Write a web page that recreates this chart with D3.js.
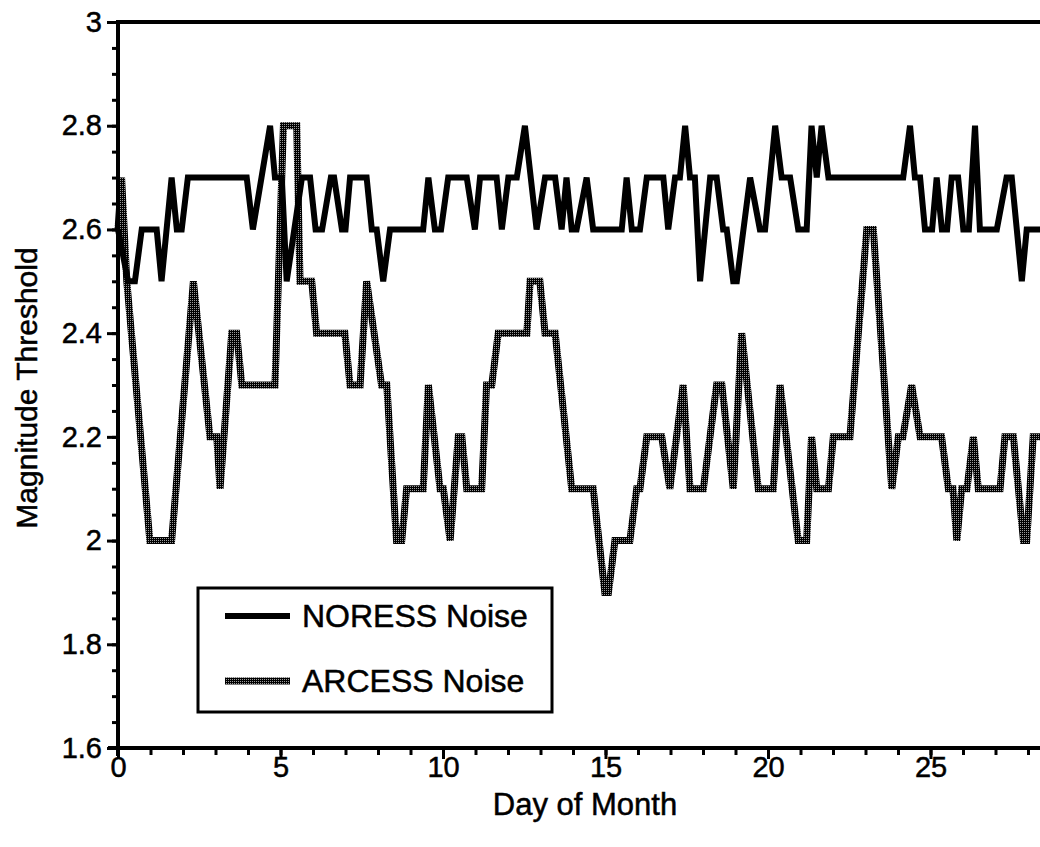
<!DOCTYPE html>
<html>
<head>
<meta charset="utf-8">
<script src="https://cdn.jsdelivr.net/npm/d3@7/dist/d3.min.js"></script>
<style>
  body { margin: 0; background: #fff; }
  svg { display: block; }
  text { font-family: "Liberation Sans", Arial, Helvetica, sans-serif; fill: #000; stroke: #000; stroke-width: 0.5; }
</style>
</head>
<body>
<div id="chart"></div>
<script>

const WIDTH = 1040;
const HEIGHT = 847;

// Plot box (the right side runs off the page like the original scan).
const PLOT = {'left': 118, 'top': 22, 'bottom': 748, 'dayWidth': 32.5};

// Day of month for each vertex, NORESS Noise.
var noressDays = [0, 0.31, 0.52, 0.73, 1.19, 1.34, 1.65, 1.81, 1.96, 2.15, 3.96, 4.15, 4.68, 4.83, 5.04, 5.19,
    5.66, 5.91, 6.08, 6.28, 6.55, 6.65, 6.89, 7.00, 7.14, 7.65, 7.81, 7.96, 8.16, 8.37, 9.39, 9.55, 9.75, 9.94,
    10.16, 10.73, 10.98, 11.14, 11.65, 11.81, 12.01, 12.27, 12.52, 12.88, 13.14, 13.45, 13.65, 13.80, 13.96,
    14.11, 14.42, 14.62, 15.50, 15.65, 15.81, 16.06, 16.27, 16.78, 16.93, 17.14, 17.29, 17.45, 17.60, 17.75,
    17.91, 18.22, 18.42, 18.62, 18.73, 18.93, 19.04, 19.45, 19.75, 19.91, 20.22, 20.42, 20.68, 20.93, 21.19,
    21.34, 21.50, 21.65, 21.86, 24.16, 24.37, 24.52, 24.68, 24.83, 25.05, 25.19, 25.35, 25.51, 25.65, 25.85,
    26.01, 26.18, 26.37, 26.52, 27.04, 27.34, 27.50, 27.81, 27.96, 28.6];
var noressValues = [2.6, 2.5, 2.5, 2.6, 2.6, 2.5, 2.7, 2.6, 2.6, 2.7, 2.7, 2.6, 2.8, 2.7, 2.7, 2.5,
    2.7, 2.7, 2.6, 2.6, 2.7, 2.7, 2.6, 2.6, 2.7, 2.7, 2.6, 2.6, 2.5, 2.6, 2.6, 2.7, 2.6, 2.6,
    2.7, 2.7, 2.6, 2.7, 2.7, 2.6, 2.7, 2.7, 2.8, 2.6, 2.7, 2.7, 2.6, 2.7, 2.6,
    2.6, 2.7, 2.6, 2.6, 2.7, 2.6, 2.6, 2.7, 2.7, 2.6, 2.7, 2.7, 2.8, 2.7, 2.7,
    2.5, 2.7, 2.7, 2.6, 2.6, 2.5, 2.5, 2.7, 2.6, 2.6, 2.8, 2.7, 2.7, 2.6, 2.6,
    2.8, 2.7, 2.8, 2.7, 2.7, 2.8, 2.7, 2.7, 2.6, 2.6, 2.7, 2.6, 2.6, 2.7, 2.7,
    2.6, 2.6, 2.8, 2.6, 2.6, 2.7, 2.7, 2.5, 2.6, 2.6];

// Day of month for each vertex, ARCESS Noise.
var arcessDays = [0, 0.11, 0.27, 0.98, 1.65, 2.32, 2.83, 3.04, 3.14, 3.50, 3.65, 3.81, 4.83, 5.09, 5.50,
    5.60, 5.96, 6.11, 6.98, 7.14, 7.45, 7.65, 8.11, 8.27, 8.57, 8.73, 8.88, 9.39, 9.55, 9.91, 10.01, 10.22,
    10.47, 10.58, 10.73, 11.19, 11.34, 11.50, 11.70, 12.58, 12.68, 12.98, 13.14, 13.45, 13.96, 14.62, 14.98,
    15.09, 15.29, 15.75, 15.96, 16.06, 16.27, 16.73, 16.98, 17.39, 17.60, 18.01, 18.42, 18.58, 18.93, 19.19,
    19.70, 20.16, 20.37, 20.93, 21.19, 21.34, 21.50, 21.86, 22.01, 22.52, 23.04, 23.24, 23.81, 24.01, 24.15,
    24.42, 24.68, 25.34, 25.55, 25.69, 25.81, 25.96, 26.12, 26.32, 26.47, 27.14, 27.29, 27.55, 27.86, 27.96,
    28.16, 28.6];
var arcessValues = [2.6, 2.7, 2.5, 2.0, 2.0, 2.5, 2.2, 2.2, 2.1, 2.4, 2.4, 2.3, 2.3, 2.8, 2.8,
    2.5, 2.5, 2.4, 2.4, 2.3, 2.3, 2.5, 2.3, 2.3, 2.0, 2.0, 2.1, 2.1, 2.3, 2.1, 2.1, 2.0,
    2.2, 2.2, 2.1, 2.1, 2.3, 2.3, 2.4, 2.4, 2.5, 2.5, 2.4, 2.4, 2.1, 2.1, 1.9,
    1.9, 2.0, 2.0, 2.1, 2.1, 2.2, 2.2, 2.1, 2.3, 2.1, 2.1, 2.3, 2.3, 2.1, 2.4,
    2.1, 2.1, 2.3, 2.0, 2.0, 2.2, 2.1, 2.1, 2.2, 2.2, 2.6, 2.6, 2.1, 2.2, 2.2,
    2.3, 2.2, 2.2, 2.1, 2.1, 2.0, 2.1, 2.1, 2.2, 2.1, 2.1, 2.2, 2.2, 2.0, 2.0,
    2.2, 2.2];

var xTickLabels = [0, 5, 10, 15, 20, 25];
var yTickLabels = [1.6, 1.8, 2, 2.2, 2.4, 2.6, 2.8, 3];
var seriesNames = ['NORESS Noise', 'ARCESS Noise'];


window.onload = function() {

    var svg = d3.select("#chart").append("svg")
                .attr("width", WIDTH)
                .attr("height", HEIGHT);

    // dithered look of the ARCESS trace
    var defs = svg.append("defs");
    var pat = defs.append("pattern")
                  .attr("id", "dither")
                  .attr("patternUnits", "userSpaceOnUse")
                  .attr("width", 2)
                  .attr("height", 2);
    pat.append("rect").attr("width", 2).attr("height", 2).attr("fill", "#000");
    pat.append("rect").attr("width", 1).attr("height", 1).attr("fill", "#999");

    var x = d3.scaleLinear()
              .domain([0, 31])
              .range([PLOT.left, PLOT.left + 31 * PLOT.dayWidth]);

    var y = d3.scaleLinear()
              .domain([1.6, 3])
              .range([PLOT.bottom, PLOT.top]);

    var noress = noressDays.map(function (d, i) { return [d, noressValues[i]]; });
    var arcess = arcessDays.map(function (d, i) { return [d, arcessValues[i]]; });

    var line = d3.line()
                 .x(function (d) { return x(d[0]); })
                 .y(function (d) { return y(d[1]); });

    svg.append("path")
       .attr("d", line(arcess))
       .attr("fill", "none")
       .attr("stroke", "url(#dither)")
       .attr("stroke-width", 7)
       .attr("stroke-linejoin", "miter");

    svg.append("path")
       .attr("d", line(noress))
       .attr("fill", "none")
       .attr("stroke", "#000")
       .attr("stroke-width", 6)
       .attr("stroke-linejoin", "miter");

    // top frame line
    svg.append("line")
       .attr("x1", PLOT.left - 2).attr("x2", WIDTH)
       .attr("y1", PLOT.top).attr("y2", PLOT.top)
       .attr("stroke", "#000").attr("stroke-width", 4);

    // Y axis: major ticks every 0.2, minor every 0.05
    var yMinor = d3.axisLeft(y)
                   .tickValues(d3.range(1.6, 3.001, 0.05))
                   .tickSize(6)
                   .tickFormat("");
    svg.append("g")
       .attr("transform", "translate(" + PLOT.left + ",0)")
       .call(yMinor)
       .call(function (g) { g.select(".domain").remove(); })
       .selectAll("line").attr("stroke-width", 3);

    var yAxis = d3.axisLeft(y)
                  .tickValues(yTickLabels)
                  .tickSize(11)
                  .tickPadding(5)
                  .tickFormat(function (d) { return d; });
    var gy = svg.append("g")
                .attr("transform", "translate(" + PLOT.left + ",0)")
                .call(yAxis);
    gy.select(".domain").remove();
    gy.selectAll("line").attr("stroke-width", 3);
    gy.selectAll("text").attr("font-size", 29).attr("font-family", null);

    svg.append("line")
       .attr("x1", PLOT.left).attr("x2", PLOT.left)
       .attr("y1", PLOT.top - 2).attr("y2", PLOT.bottom + 8)
       .attr("stroke", "#000").attr("stroke-width", 4);

    // X axis: major every 5 days, minor every day
    var xMinor = d3.axisBottom(x)
                   .tickValues(d3.range(0, 32, 1))
                   .tickSize(7)
                   .tickFormat("");
    svg.append("g")
       .attr("transform", "translate(0," + PLOT.bottom + ")")
       .call(xMinor)
       .call(function (g) { g.select(".domain").remove(); })
       .selectAll("line").attr("stroke-width", 3);

    var xAxis = d3.axisBottom(x)
                  .tickValues(xTickLabels)
                  .tickSize(11)
                  .tickPadding(-3)
                  .tickFormat(function (d) { return d; });
    var gx = svg.append("g")
                .attr("transform", "translate(0," + PLOT.bottom + ")")
                .call(xAxis);
    gx.select(".domain").remove();
    gx.selectAll("line").attr("stroke-width", 3);
    gx.selectAll("text").attr("font-size", 29).attr("font-family", null);

    svg.append("line")
       .attr("x1", PLOT.left - 10).attr("x2", WIDTH)
       .attr("y1", PLOT.bottom).attr("y2", PLOT.bottom)
       .attr("stroke", "#000").attr("stroke-width", 4);

    // axis titles
    svg.append("text")
       .attr("x", 585)
       .attr("y", 815)
       .attr("text-anchor", "middle")
       .attr("font-size", 31)
       .text("Day of Month");

    svg.append("text")
       .attr("transform", "translate(37,388) rotate(-90)")
       .attr("text-anchor", "middle")
       .attr("font-size", 30)
       .text("Magnitude Threshold");

    // legend
    var legend = svg.append("g").attr("transform", "translate(198,588)");
    legend.append("rect")
          .attr("width", 354)
          .attr("height", 124)
          .attr("fill", "#fff")
          .attr("stroke", "#000")
          .attr("stroke-width", 3);

    var rows = legend.selectAll("g.row")
                     .data(seriesNames)
                     .enter()
                     .append("g")
                     .attr("class", "row")
                     .attr("transform", function (d, i) { return "translate(0," + (28 + i * 65) + ")"; });

    rows.append("line")
        .attr("x1", 27).attr("x2", 92)
        .attr("y1", 0).attr("y2", 0)
        .attr("stroke", function (d, i) { return i == 0 ? "#000" : "url(#dither)"; })
        .attr("stroke-width", function (d, i) { return i == 0 ? 6 : 7; });

    rows.append("text")
        .attr("x", 104)
        .attr("y", 11)
        .attr("font-size", 32)
        .text(function (d) { return d; });
};

</script>
</body>
</html>
